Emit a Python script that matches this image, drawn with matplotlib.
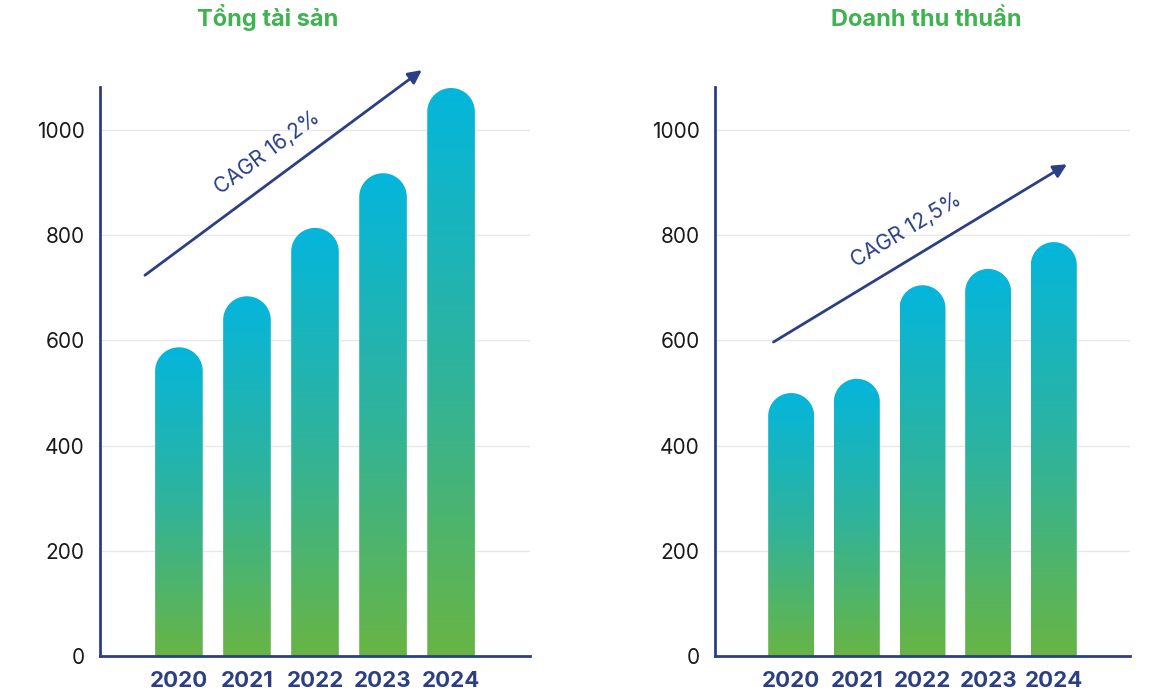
import numpy as np
import matplotlib
matplotlib.use('Agg')
import matplotlib.pyplot as plt
from matplotlib.path import Path
from matplotlib.patches import PathPatch
from matplotlib.colors import LinearSegmentedColormap

plt.rcParams['font.family'] = ['Inter', 'DejaVu Sans']

years = ['2020', '2021', '2022', '2023', '2024']
tong_tai_san = [587, 684, 814, 918, 1080]
doanh_thu_thuan = [500, 527, 705, 736, 787]
titles = ['Tổng tài sản', 'Doanh thu thuần']
cagr_labels = ['CAGR 16,2%', 'CAGR 12,5%']

NAVY = '#2b3f85'
GREEN_TITLE = '#3fb34f'
cmap = LinearSegmentedColormap.from_list('bar', ['#68b544', '#2fb39c', '#04b6dc'])


def rounded_bar(ax, x, h, w):
    # thanh co dau tron, mau chuyen tu xanh la len xanh duong
    px_x = ax.transData.transform((1, 0))[0] - ax.transData.transform((0, 0))[0]
    px_y = ax.transData.transform((0, 1))[1] - ax.transData.transform((0, 0))[1]
    r_px = w / 2 * px_x
    ry = r_px / px_y
    rx = w / 2
    t = np.linspace(np.pi, 0, 60)
    xs = [x - rx, x - rx] + list(x + rx * np.cos(t)) + [x + rx, x - rx]
    ys = [0, h - ry] + list(h - ry + ry * np.sin(t)) + [0, 0]
    path = Path(np.column_stack([xs, ys]))
    patch = PathPatch(path, facecolor='none', edgecolor='none')
    ax.add_patch(patch)
    grad = np.linspace(0, 1, 256).reshape(-1, 1)
    im = ax.imshow(grad, extent=[x - rx, x + rx, 0, h], origin='lower',
                   cmap=cmap, aspect='auto', zorder=3)
    im.set_clip_path(patch)


fig = plt.figure(figsize=(11.63, 6.98), dpi=100)
ax1 = fig.add_axes([0.086, 0.0602, 0.3697, 0.8152])
ax2 = fig.add_axes([0.6148, 0.0602, 0.3568, 0.8152])

arrows = [((-0.5, 724), (3.57, 1114)), ((-0.27, 597), (4.2, 935))]
text_pos = [(1.3, 957, 36.5), (1.76, 810, 31)]
title_x = [268, 926]

for i, (ax, vals) in enumerate([(ax1, tong_tai_san), (ax2, doanh_thu_thuan)]):
    x = np.arange(len(years))
    ax.set_xlim(-1.16, 5.16)
    ax.set_ylim(0, 1082)
    for j, v in enumerate(vals):
        rounded_bar(ax, x[j], v, 0.7)
    ax.set_yticks([0, 200, 400, 600, 800, 1000])
    ax.set_xticks(x)
    ax.set_xticklabels(years, fontsize=16, fontweight='bold', color=NAVY)
    ax.tick_params(axis='y', length=0, pad=11, labelsize=15, labelcolor='#1a1a1a')
    ax.tick_params(axis='x', length=0, pad=11)
    ax.grid(axis='y', color='#e8e8e8', lw=1, zorder=0)
    ax.set_axisbelow(True)
    for s in ['top', 'right']:
        ax.spines[s].set_visible(False)
    for s in ['left', 'bottom']:
        ax.spines[s].set_color(NAVY)
        ax.spines[s].set_linewidth(2)
        ax.spines[s].set_zorder(5)

    (x0, y0), (x1, y1) = arrows[i]
    ax.annotate('', xy=(x1, y1), xytext=(x0, y0), annotation_clip=False,
                arrowprops=dict(arrowstyle='-|>', color=NAVY, lw=2, mutation_scale=20,
                                shrinkA=0, shrinkB=0))
    tx, ty, rot = text_pos[i]
    ax.text(tx, ty, cagr_labels[i], rotation=rot, color=NAVY, fontsize=15,
            ha='center', va='center', rotation_mode='anchor', clip_on=False)

    fig.text(title_x[i] / 1163, 1 - 26 / 698, titles[i], fontsize=17, fontweight='bold',
             color=GREEN_TITLE, ha='center', va='baseline')

fig.savefig('out.png', dpi=100)
